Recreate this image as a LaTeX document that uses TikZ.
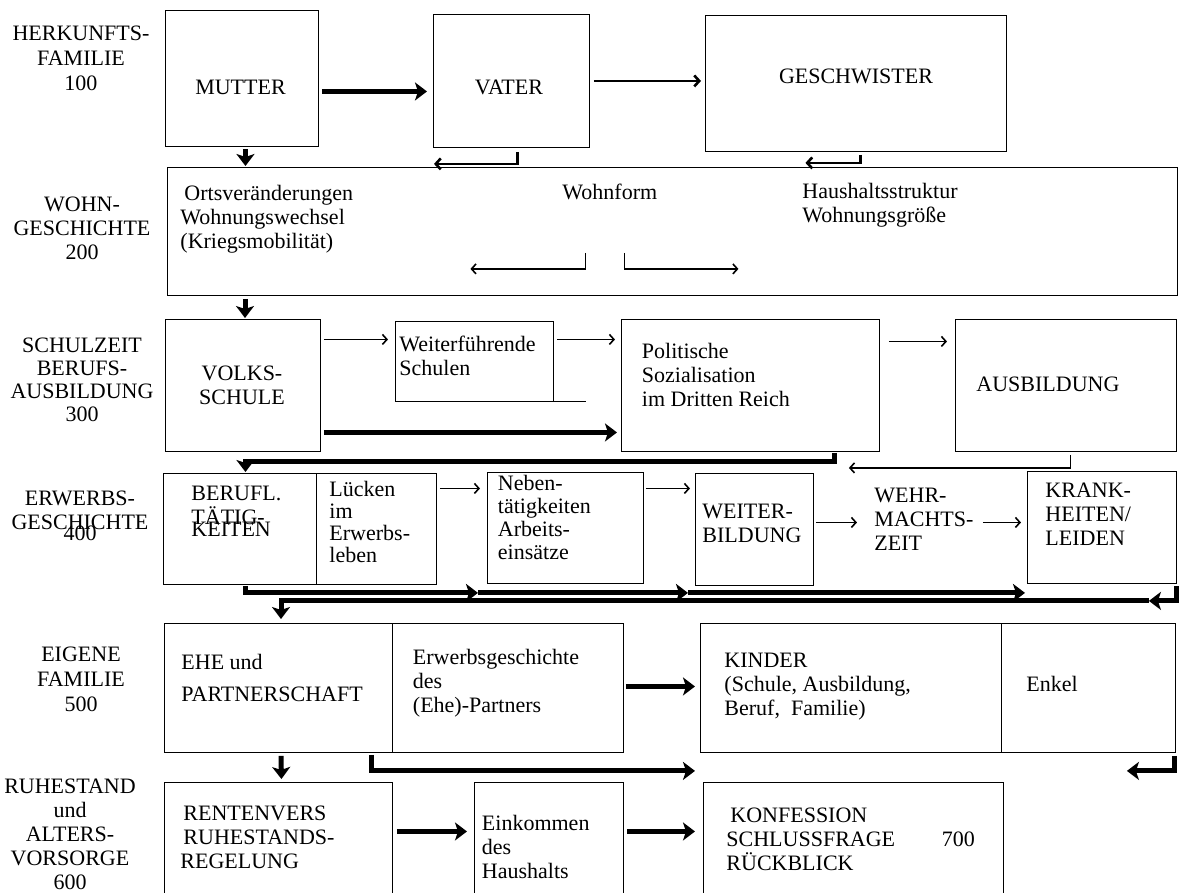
\documentclass[tikz,border=0pt]{standalone}
\usepackage{fontspec}
\setmainfont{Liberation Serif}
\usetikzlibrary{arrows.meta}

\begin{document}
\begin{tikzpicture}[x=1pt, y=-1pt, line width=0.9pt,
  kasten/.style={draw, inner sep=0pt, anchor=north west},
  offen/.style={inner sep=0pt, anchor=north west},
  txt/.style={font=\fontsize{22}{24}\selectfont, inner sep=0pt, anchor=base west, align=left},
  mtxt/.style={font=\fontsize{22}{24}\selectfont, inner sep=0pt, anchor=base, align=center},
  dick/.style={line width=5pt, -{Stealth[length=12pt, width=18pt, inset=3pt]}},
  mittel/.style={line width=2.6pt, -{Straight Barb[length=5pt, width=11pt]}},
  duenn/.style={line width=1.6pt, -{Straight Barb[length=4.5pt, width=10pt]}}]

\useasboundingbox (0,0) rectangle (1183,892);

% ================================================================
% Left column: section labels (pixel coordinates, y downwards)
% note: a multi-line node sits on the baseline of its LAST line
% ================================================================
\foreach \nm/\xx/\yy/\txt in {
  herk/81/90/{HERKUNFTS-\\[1pt]FAMILIE\\[1pt]100},
  wohnl/82/259/{WOHN-\\GESCHICHTE\\200},
  schull/82/421/{SCHULZEIT\\[-1pt]BERUFS-\\[-1pt]AUSBILDUNG\\[-1pt]300},
  erwl/80/540/{ERWERBS-\\GESCHICHTE\\[-13pt]400},
  eigl/81/711/{EIGENE\\[1pt]FAMILIE\\[1pt]500},
  ruhl/70/889/{RUHESTAND\\und\\ALTERS-\\VORSORGE\\600}}
  \node[mtxt] (\nm) at (\xx,\yy) {\txt};

% ================================================================
% 100: Herkunftsfamilie
% ================================================================
\node[kasten, minimum width=153pt, minimum height=136pt] (mutter) at (165,10) {};
\node[kasten, minimum width=156pt, minimum height=133pt] (vater) at (433,14) {};
\node[kasten, minimum width=301pt, minimum height=136pt] (geschw) at (705,15) {};
\node[mtxt] (muttxt) at (240.5,94) {MUTTER};
\node[mtxt] (vattxt) at (509,94) {VATER};
\node[mtxt] (geschtxt) at (856,83) {GESCHWISTER};

% ================================================================
% 200: Wohngeschichte
% ================================================================
\node[kasten, minimum width=1010pt, minimum height=128pt] (wohn) at (167,167) {};
\node[txt] (orts) at (180,248) {\kern4pt Ortsveränderungen\\Wohnungswechsel\\(Kriegsmobilität)};
\node[txt] (wform) at (562,199) {Wohnform};
\node[txt] (haush) at (802,222) {Haushaltsstruktur\\Wohnungsgröße};

% ================================================================
% 300: Schulzeit, Berufsausbildung
% ================================================================
\node[kasten, minimum width=155pt, minimum height=132pt] (volks) at (165,319) {};
\node[kasten, minimum width=158pt, minimum height=80pt] (weiter) at (395,321) {};
\node[kasten, minimum width=258pt, minimum height=132pt] (polit) at (621,319) {};
\node[kasten, minimum width=221pt, minimum height=132pt] (ausb) at (955,319) {};
\draw (weiter.south east) -- ++(32,0);
\node[mtxt] (volkstxt) at (242,404) {VOLKS-\\SCHULE};
\node[txt] (weitertxt) at (399,375) {Weiterführende\\Schulen};
\node[txt] (polittxt) at (641.5,406) {Politische\\Sozialisation\\im Dritten Reich};
\node[txt] (ausbtxt) at (976,391) {AUSBILDUNG};

% ================================================================
% 400: Erwerbsgeschichte
% ================================================================
\node[kasten, minimum width=273pt, minimum height=111pt] (beruf) at (163,473) {};
\draw ([xshift=153.5pt]beruf.north west) -- ([xshift=153.5pt]beruf.south west);
\node[kasten, minimum width=156pt, minimum height=111pt] (neben) at (487,472) {};
\node[kasten, minimum width=118pt, minimum height=112pt] (weiterb) at (695,473) {};
\node[kasten, minimum width=149pt, minimum height=112pt] (krank) at (1027,471) {};
\node[txt] (beruftxt) at (191,536) {BERUFL.\\TÄTIG-\\[-12pt]KEITEN};
\node[txt] (lueck) at (329,562) {Lücken\\[-2pt]im\\[-2pt]Erwerbs-\\[-2pt]leben};
\node[txt] (nebentxt) at (497.5,559) {Neben-\\[-1pt]tätigkeiten\\[-1pt]Arbeits-\\[-1pt]einsätze};
\node[txt] (weiterbtxt) at (702,542) {WEITER-\\BILDUNG};
\node[txt] (wehr) at (874,550) {WEHR-\\MACHTS-\\ZEIT};
\node[txt] (kranktxt) at (1045,545) {KRANK-\\HEITEN/\\LEIDEN};

% ================================================================
% 500: Eigene Familie
% ================================================================
\node[kasten, minimum width=459pt, minimum height=129pt] (ehe) at (164,623) {};
\draw ([xshift=228pt]ehe.north west) -- ([xshift=228pt]ehe.south west);
\node[kasten, minimum width=475pt, minimum height=129pt] (kinder) at (700,623) {};
\draw ([xshift=301pt]kinder.north west) -- ([xshift=301pt]kinder.south west);
\node[txt] (ehetxt) at (181,701) {EHE und\\[8pt]PARTNERSCHAFT};
\node[txt] (erwtxt) at (412.5,712) {Erwerbsgeschichte\\des\\(Ehe)-Partners};
\node[txt] (kindtxt) at (724,715) {KINDER\\(Schule, Ausbildung,\\Beruf,\ \ Familie)};
\node[txt] (enkel) at (1026,691) {Enkel};

% ================================================================
% 600: Ruhestand und Altersvorsorge (boxes open at the bottom)
% ================================================================
\node[offen, minimum width=228pt, minimum height=110pt] (renten) at (164,782) {};
\node[offen, minimum width=148.5pt, minimum height=110pt] (eink) at (474.5,782) {};
\node[offen, minimum width=300pt, minimum height=110pt] (konf) at (703,782) {};
\draw (renten.south west) |- (renten.north east) -- (renten.south east);
\draw (eink.south west) |- (eink.north east) -- (eink.south east);
\draw (konf.south west) |- (konf.north east) -- (konf.south east);
\node[txt] (rententxt) at (180,868) {\kern3pt RENTENVERS\\\kern3pt RUHESTANDS-\\REGELUNG};
\node[txt] (einktxt) at (481.5,878) {Einkommen\\des\\Haushalts};
\node[txt] (konftxt) at (726,870) {\kern4pt KONFESSION\\SCHLUSSFRAGE\\RÜCKBLICK};
\node[txt] (siebenhundert) at (941.5,846) {700};

% ================================================================
% Connectors
% ================================================================
% row 100
\draw[dick] ([xshift=3pt,yshift=-13pt]mutter.east) -- ([xshift=-6pt,yshift=-13pt]mutter.east -| vater.west);
\draw[mittel] ([xshift=4pt]vater.east) -- ([xshift=-4pt]vater.east -| geschw.west);
\draw[mittel] ([xshift=6pt,yshift=-4pt]vater.south) |- ([xshift=1pt,yshift=-16pt]vater.south west);
\draw[mittel] ([xshift=4.5pt,yshift=-3pt]geschw.south) |- ([xshift=-50.5pt,yshift=-11pt]geschw.south);
\draw[dick] ([xshift=3.5pt,yshift=-2pt]mutter.south) -- ([xshift=3.5pt,yshift=1pt]mutter.south |- wohn.north);

% row 200
\draw[duenn] ([xshift=-87pt,yshift=43pt]wohn.south) |- ([xshift=-202pt,yshift=27pt]wohn.south);
\draw[duenn] ([xshift=-48pt,yshift=43pt]wohn.south) |- ([xshift=66pt,yshift=27pt]wohn.south);
\draw[dick] ([xshift=78pt,yshift=-3pt]wohn.south west) -- ([xshift=78pt,yshift=1pt]wohn.south west |- volks.north);

% row 300
\draw[duenn] ([xshift=3pt,yshift=46pt]volks.east) -- ([xshift=-7pt,yshift=46pt]volks.east -| weiter.west);
\draw[duenn] ([xshift=3pt,yshift=22pt]weiter.east) -- ([xshift=-6pt,yshift=22pt]weiter.east -| polit.west);
\draw[duenn] ([xshift=9pt,yshift=44pt]polit.east) -- ([xshift=-8pt,yshift=44pt]polit.east -| ausb.west);
\draw[dick] ([xshift=3pt,yshift=-47pt]volks.east) -- ([xshift=-4pt,yshift=-47pt]volks.east -| polit.west);
\draw[dick] ([xshift=84pt,yshift=-1pt]polit.south) -- ++(0,9) -| ([xshift=-54.5pt,yshift=1pt]beruf.north);
\draw[duenn] ([xshift=4.5pt,yshift=-3pt]ausb.south) |- ([xshift=-31pt,yshift=-16pt]polit.south east);

% row 400
\draw[duenn] ([xshift=3pt,yshift=40.5pt]beruf.east) -- ([xshift=-7pt,yshift=40.5pt]beruf.east -| neben.west);
\draw[duenn] ([xshift=2pt,yshift=39.5pt]neben.east) -- ([xshift=-5pt,yshift=39.5pt]neben.east -| weiterb.west);
\draw[duenn] ([xshift=2pt,yshift=7pt]weiterb.east) -- ([xshift=-17pt,yshift=7pt]wehr.west |- weiterb.east);
\draw[duenn] ([xshift=9pt,yshift=5pt]wehr.east |- krank.west) -- ([xshift=-6pt,yshift=5pt]krank.west);
\draw[dick] ([xshift=82pt,yshift=-1pt]beruf.south west) |- ([xshift=-9pt,yshift=-9pt]neben.south west);
\draw[dick] ([xshift=-9pt,yshift=-9pt]neben.south west) -- ([xshift=-7pt,yshift=-7pt]weiterb.south west);
\draw[dick] ([xshift=-7pt,yshift=-7pt]weiterb.south west) -- ([xshift=-2pt,yshift=-9pt]krank.south west);
\draw[dick] ([yshift=-2pt]krank.south east) |- ([xshift=-28pt,yshift=-17pt]krank.south east);
\draw[dick] ([xshift=-28pt,yshift=-17pt]krank.south east) -| ([xshift=117pt,yshift=4pt]ehe.north west);

% row 500
\draw[dick] ([xshift=2pt,yshift=1.5pt]ehe.east) -- ([xshift=-5pt,yshift=1.5pt]ehe.east -| kinder.west);
\draw[dick] ([xshift=207pt,yshift=-2pt]ehe.south west) |- ([xshift=-5pt,yshift=-18pt]kinder.south west);
\draw[dick] ([xshift=-1pt,yshift=-3pt]kinder.south east) |- ([xshift=-49pt,yshift=-18pt]kinder.south east);
\draw[dick] ([xshift=117pt,yshift=-3pt]ehe.south west) -- ([xshift=3pt,yshift=3pt]renten.north);

% row 600
\draw[dick] ([xshift=4pt,yshift=6pt]renten.east) -- ([xshift=-7.5pt,yshift=6pt]renten.east -| eink.west);
\draw[dick] ([xshift=3pt,yshift=6pt]eink.east) -- ([xshift=-8pt,yshift=6pt]eink.east -| konf.west);

\end{tikzpicture}
\end{document}
